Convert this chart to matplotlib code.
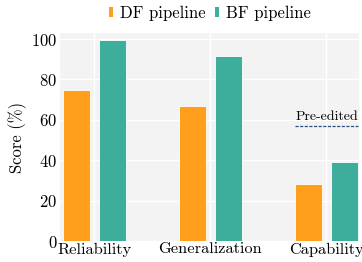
import numpy as np
import matplotlib.pyplot as plt
from matplotlib.patches import Patch

plt.rcParams['font.family'] = ['cmr10', 'DejaVu Serif']
plt.rcParams['mathtext.fontset'] = 'cm'
plt.rcParams['axes.formatter.use_mathtext'] = True

# --- data ---
categories = ['Reliability', 'Generalization', 'Capability']
df_scores = [75, 67, 28]
bf_scores = [99.5, 91.5, 39]
pre_edited = 57
series_names = ['DF pipeline', 'BF pipeline']
colors = ['#FF9F1C', '#3EAE9C']

fig = plt.figure(figsize=(3.62, 2.62), dpi=100)
ax = fig.add_axes([0.166, 0.08, 0.826, 0.794])
ax.set_facecolor('#F3F3F3')
ax.grid(True, color='white', linewidth=1.0)
ax.set_axisbelow(True)
for s in ax.spines.values():
    s.set_visible(False)

x = np.arange(len(categories))
w = 0.235
off = 0.155
ax.bar(x - off, df_scores, w, color=colors[0], edgecolor='white', linewidth=0.6)
ax.bar(x + off, bf_scores, w, color=colors[1], edgecolor='white', linewidth=0.6)

# pre-edited reference line over the capability group
ax.hlines(pre_edited, x[2] - off - w / 2, x[2] + off + w / 2,
          colors='#2C4F80', linestyles=(0, (2.5, 1.2)), linewidth=0.9)
ax.text(x[2] + 0.01, pre_edited + 1.5, 'Pre-edited', ha='center', va='bottom', fontsize=10)

ax.set_xlim(-0.297, 2.284)
ax.set_ylim(0, 103)
ax.set_xticks(x)
ax.set_xticklabels(categories, fontsize=11.8)
ax.set_yticks([0, 20, 40, 60, 80, 100])
ax.tick_params(axis='y', labelsize=12, length=0, pad=2)
ax.tick_params(axis='x', length=0, pad=1)
ax.set_ylabel('Score (%)', fontsize=12, labelpad=3)

handles = [Patch(facecolor=c, linewidth=0) for c in colors]
fig.legend(handles, series_names, loc='upper center', bbox_to_anchor=(0.58, 1.035),
           ncol=2, frameon=False, fontsize=12, handlelength=0.22, handleheight=0.5,
           handletextpad=0.4, columnspacing=0.6)

fig.savefig('out.png', dpi=100)
